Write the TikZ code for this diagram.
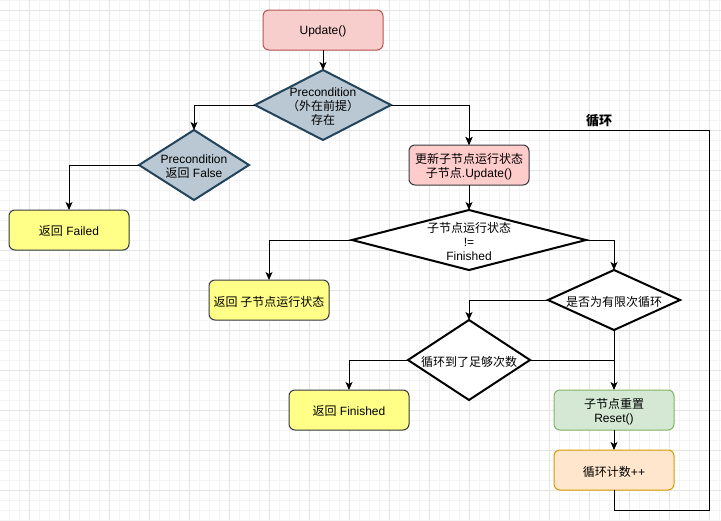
\documentclass[tikz,border=0pt]{standalone}
\usepackage{fontspec}
\setmainfont{Liberation Sans}
\newfontfamily\cjk{Noto Sans CJK SC}
\usetikzlibrary{shapes.geometric,arrows.meta}
\definecolor{gminor}{HTML}{F4F4F4}
\definecolor{gmajor}{HTML}{E4E4E4}
\definecolor{redfill}{HTML}{F8CECC}
\definecolor{redline}{HTML}{B85450}
\definecolor{bluefill}{HTML}{BAC8D3}
\definecolor{blueline}{HTML}{23445D}
\definecolor{yelfill}{HTML}{FFFF88}
\definecolor{darkline}{HTML}{36393D}
\definecolor{pinkfill}{HTML}{FFCCCC}
\definecolor{grnfill}{HTML}{D5E8D4}
\definecolor{grnline}{HTML}{82B366}
\definecolor{orgfill}{HTML}{FFE6CC}
\definecolor{orgline}{HTML}{D79B00}
\tikzset{
  txt/.style={font=\fontsize{12}{14}\selectfont, align=center, text=black, inner sep=0pt},
  box/.style={draw=darkline, line width=1pt, rounded corners=6pt, minimum width=120pt, minimum height=40pt, inner sep=0pt, outer sep=0pt, txt},
  lab/.style={txt, yshift=-1.5pt},
  dia/.style={diamond, draw=black, fill=white, line width=2pt, inner sep=0pt, outer sep=0pt},
  conn/.style={line width=1pt, draw=black, -{Stealth[length=8pt,width=7pt,inset=2pt]}},
  plain/.style={line width=1pt, draw=black},
}
\begin{document}
\begin{tikzpicture}[x=1pt,y=-1pt]
\useasboundingbox (0,0) rectangle (721,520);
\fill[white] (0,0) rectangle (721,520);
% grid
\foreach \x in {-1,9,...,719} \draw[gminor, line width=1pt] (\x,0) -- (\x,520);
\foreach \y in {0,10,...,520} \draw[gminor, line width=1pt] (0,\y) -- (721,\y);
\foreach \x in {29,69,...,709} \draw[gmajor, line width=1pt] (\x,0) -- (\x,520);
\foreach \y in {10,50,...,490} \draw[gmajor, line width=1pt] (0,\y) -- (721,\y);

% nodes
\node[box, fill=redfill, draw=redline] (upd) at (323,30) {};
\node[lab] at (upd) {Update()};
\node[dia, fill=bluefill, draw=blueline, minimum width=136pt, minimum height=70pt,
  label={[lab]center:Precondition\\{\cjk （外在前提）}\\{\cjk 存在}}] (d1) at (323,105) {};
\node[dia, fill=bluefill, draw=blueline, minimum width=110pt, minimum height=70pt,
  label={[lab]center:Precondition\\{\cjk 返回} False}] (d2) at (194,165) {};
\node[box, fill=yelfill, label={[lab]center:{\cjk 返回} Failed}] (failed) at (69,230) {};
\node[box, fill=pinkfill, label={[lab]center:{\cjk 更新子节点运行状态}\\{\cjk 子节点}.Update()}] (upd2) at (469,165) {};
\node[dia, minimum width=234pt, minimum height=60pt,
  label={[lab]center:{\cjk 子节点运行状态}\\!=\\Finished}] (d3) at (469,240) {};
\node[box, fill=yelfill, label={[lab]center:{\cjk 返回 子节点运行状态}}] (ret) at (269,300) {};
\node[dia, minimum width=132pt, minimum height=60pt,
  label={[lab]center:{\cjk 是否为有限次循环}}] (d4) at (614,300) {};
\node[dia, minimum width=122pt, minimum height=80pt,
  label={[lab]center:{\cjk 循环到了足够次数}}] (d5) at (469,360) {};
\node[box, fill=yelfill, label={[lab]center:{\cjk 返回} Finished}] (fin) at (349,410) {};
\node[box, fill=grnfill, draw=grnline, label={[lab]center:{\cjk 子节点重置}\\Reset()}] (reset) at (614,410) {};
\node[box, fill=orgfill, draw=orgline, label={[lab]center:{\cjk 循环计数}++}] (cnt) at (614,470) {};
\node[txt, font=\fontsize{13}{15}\selectfont\bfseries] (loop) at (599,121) {{\cjk\bfseries 循环}};
\coordinate (lr) at (709,510);
\coordinate (lt) at (469,130);

% connectors
\draw[conn] (upd.south) -- (d1.north);
\draw[conn] (d1.west) -| (d2.north);
\draw[conn] (d2.west) -| (failed.north);
\draw[conn] (d1.east) -| (upd2.north);
\draw[conn] (upd2.south) -- (d3.north);
\draw[conn] (d3.west) -| (ret.north);
\draw[conn] (d3.east) -| (d4.north);
\draw[conn] (d4.west) -| (d5.north);
\draw[conn] (d5.west) -| (fin.north);
\draw[plain] (d5.east) -- (d5.east -| d4.south);
\draw[conn] (d4.south) -- (reset.north);
\draw[conn] (reset.south) -- (cnt.north);
\draw[conn] (cnt.south) |- (lr) |- (lt) -- (upd2.north);
\end{tikzpicture}
\end{document}
